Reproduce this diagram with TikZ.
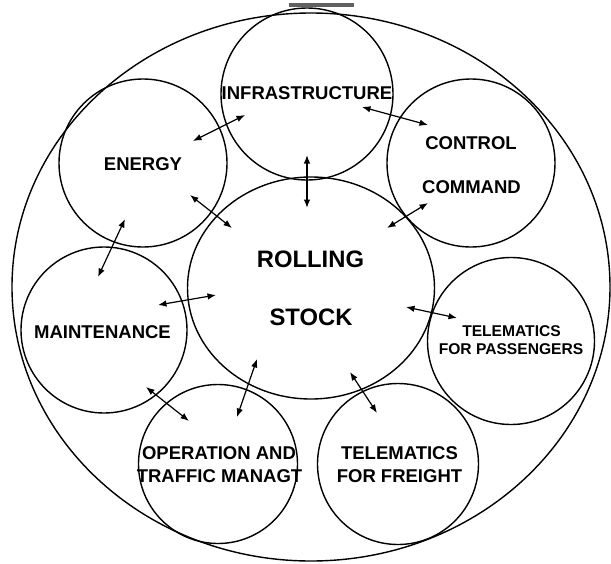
\documentclass[tikz,border=0pt]{standalone}
\usepackage{fontspec}
\setmainfont{Liberation Sans}
\usetikzlibrary{arrows.meta,shapes.geometric}
\begin{document}
\begin{tikzpicture}[x=1pt,y=-1pt,
  ring/.style={draw=black,line width=1.4pt,circle,inner sep=0pt,minimum size=#1},
  lbl/.style={inner sep=0pt,font=\bfseries\fontsize{18.5}{20}\selectfont,text height=13.25pt,text depth=0pt},
  lblsmall/.style={inner sep=0pt,font=\bfseries\fontsize{15.6}{17}\selectfont,text height=11.2pt,text depth=0pt},
  lblbig/.style={inner sep=0pt,font=\bfseries\fontsize{23.8}{26}\selectfont,text height=17pt,text depth=0pt},
  link/.style={line width=1.2pt,{Latex[length=8.5pt,width=6.5pt]}-{Latex[length=8.5pt,width=6.5pt]}}]
\useasboundingbox (0,0) rectangle (611,563);

% short bar above the top circle
\draw[line width=4pt,draw=black!62] (289,5) -- (354,5);

% enclosing ellipse
\node[draw=black,line width=1.4pt,ellipse,inner sep=0pt,minimum width=598pt,minimum height=548pt] (outer) at (311,287) {};

% domain circles
\node[ring=172pt] (infra) at (307,94) {};
\node[ring=168pt] (energy) at (143,163) {};
\node[ring=168pt] (control) at (471,163) {};
\node[ring=166pt] (maint) at (104,330) {};
\node[ring=167pt] (pass) at (511,341) {};
\node[ring=159pt] (oper) at (218,464) {};
\node[ring=161pt] (freight) at (398,464) {};
\node[draw=black,line width=1.4pt,ellipse,inner sep=0pt,minimum width=247pt,minimum height=222pt] (rolling) at (311,288) {};

% labels
\node[lbl] (tInfra) at (307,92.5) {INFRASTRUCTURE};
\node[lbl] (tEnergy) at (143,164) {ENERGY};
\node[lbl] (tControl) at (471,143) {CONTROL};
\node[lbl] (tCommand) at (471.5,187) {COMMAND};
\node[lbl] (tMaint) at (102.5,332) {MAINTENANCE};
\node[lblbig] (tRolling) at (310.5,259) {ROLLING};
\node[lblbig] (tStock) at (311,317) {STOCK};
\node[lblsmall] (tPassA) at (511.5,331) {TELEMATICS};
\node[lblsmall] (tPassB) at (511,349) {FOR PASSENGERS};
\node[lbl] (tOperA) at (219,453) {OPERATION AND};
\node[lbl] (tOperB) at (219.5,476) {TRAFFIC MANAGT};
\node[lbl] (tFreA) at (399.5,453) {TELEMATICS};
\node[lbl] (tFreB) at (399.5,476) {FOR FREIGHT};

% arrow end points
\coordinate (eiA) at (193,141);  \coordinate (eiB) at (245,115);
\coordinate (erA) at (190,195);  \coordinate (erB) at (232,228);
\coordinate (emA) at (125,219);  \coordinate (emB) at (98,277);
\coordinate (mrA) at (158,305);  \coordinate (mrB) at (216,295);
\coordinate (irA) at (307,155);  \coordinate (irB) at (307,208);
\coordinate (icA) at (362,107);  \coordinate (icB) at (428,125);
\coordinate (crA) at (428,203);  \coordinate (crB) at (387,228);
\coordinate (rpA) at (406,307);  \coordinate (rpB) at (457,318);
\coordinate (rfA) at (350,372);  \coordinate (rfB) at (377,413);
\coordinate (roA) at (257,359);  \coordinate (roB) at (237,417);
\coordinate (moA) at (146,387);  \coordinate (moB) at (189,421);

% two-way links
\draw[link] (eiA) -- (eiB);
\draw[link] (erA) -- (erB);
\draw[link] (emA) -- (emB);
\draw[link] (mrA) -- (mrB);
\draw[link] (irA) -- (irB);
\draw[link] (icA) -- (icB);
\draw[link] (crA) -- (crB);
\draw[link] (rpA) -- (rpB);
\draw[link] (rfA) -- (rfB);
\draw[link] (roA) -- (roB);
\draw[link] (moA) -- (moB);
\end{tikzpicture}
\end{document}
